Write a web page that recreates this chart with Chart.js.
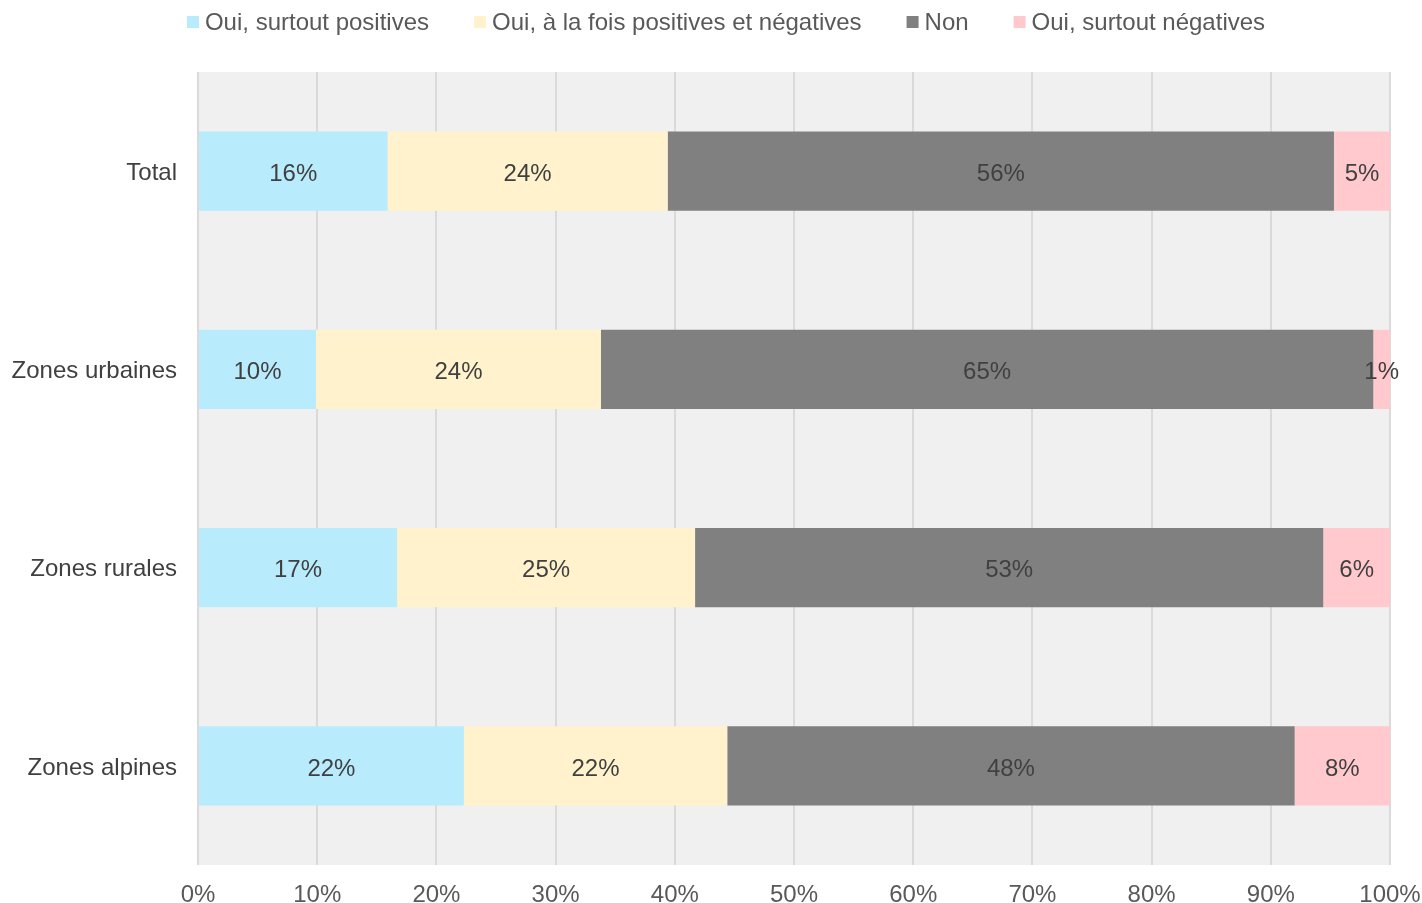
<!DOCTYPE html>
<html>
<head>
<meta charset="utf-8">
<script src="https://cdn.jsdelivr.net/npm/chart.js@4/dist/chart.umd.min.js"></script>
<style>
  html, body { margin: 0; padding: 0; background: #fff; }
  #wrap { width: 1422px; height: 903px; }
</style>
</head>
<body>
<div id="wrap"><canvas id="chart" width="1422" height="903"></canvas></div>
<script>
const categories = ["Total", "Zones urbaines", "Zones rurales", "Zones alpines"];
const seriesNames = [
  "Oui, surtout positives",
  "Oui, à la fois positives et négatives",
  "Non",
  "Oui, surtout négatives",
];
const surtoutPositives = [15.9, 9.9, 16.7, 22.3];
const positivesEtNegatives = [23.5, 23.9, 25.0, 22.1];
const non = [55.9, 64.8, 52.7, 47.6];
const surtoutNegatives = [4.7, 1.4, 5.6, 8.0];
const tickLabels = ["0%", "10%", "20%", "30%", "40%", "50%", "60%", "70%", "80%", "90%", "100%"];
const colors = ["#b8ebfc", "#fff2cc", "#808080", "#ffc9ce"];

const FONT = "'Liberation Sans', Arial, sans-serif";
const SIZE = 24;

// gray plot background
const plotBackground = {
  id: "plotBackground",
  beforeDraw(chart) {
    const { ctx, chartArea } = chart;
    ctx.save();
    ctx.fillStyle = "#f0f0f0";
    ctx.fillRect(chartArea.left, chartArea.top, chartArea.right - chartArea.left, chartArea.bottom - chartArea.top);
    ctx.restore();
  },
};

// percent labels centered in each segment
const segmentLabels = {
  id: "segmentLabels",
  afterDatasetsDraw(chart) {
    const { ctx } = chart;
    ctx.save();
    ctx.font = SIZE + "px " + FONT;
    ctx.fillStyle = "#404040";
    ctx.textAlign = "center";
    ctx.textBaseline = "middle";
    chart.data.datasets.forEach((ds, i) => {
      chart.getDatasetMeta(i).data.forEach((bar, j) => {
        const x = (bar.x + bar.base) / 2;
        ctx.fillText(Math.round(ds.data[j]) + "%", x, bar.y + 3);
      });
    });
    ctx.restore();
  },
};

// legend row at the top
const topLegend = {
  id: "topLegend",
  afterDraw(chart) {
    const { ctx } = chart;
    ctx.save();
    ctx.font = SIZE + "px " + FONT;
    ctx.textBaseline = "middle";
    const box = 12, gapText = 6, gapItem = 45, y = 22;
    const widths = chart.data.datasets.map((ds) => box + gapText + ctx.measureText(ds.label).width);
    const total = widths.reduce((a, b) => a + b, 0) + gapItem * (widths.length - 1);
    let x = (chart.width - total) / 2 + 15;
    chart.data.datasets.forEach((ds, i) => {
      ctx.fillStyle = ds.backgroundColor;
      ctx.fillRect(x, y - 6, box, box);
      ctx.fillStyle = "#595959";
      ctx.textAlign = "left";
      ctx.fillText(ds.label, x + box + gapText, y + 1);
      x += widths[i] + gapItem;
    });
    ctx.restore();
  },
};

const seriesValues = [surtoutPositives, positivesEtNegatives, non, surtoutNegatives];

new Chart(document.getElementById("chart"), {
  type: "bar",
  data: {
    labels: categories,
    datasets: seriesNames.map((name, i) => ({
      label: name,
      data: seriesValues[i],
      backgroundColor: colors[i],
      borderWidth: 0,
      categoryPercentage: 0.8,
      barPercentage: 0.5,
    })),
  },
  options: {
    indexAxis: "y",
    responsive: false,
    animation: false,
    layout: { padding: { top: 72, right: 32, left: 0, bottom: 0 } },
    scales: {
      x: {
        stacked: true,
        min: 0,
        max: 100,
        ticks: {
          stepSize: 10,
          padding: 16,
          color: "#595959",
          font: { family: FONT, size: SIZE },
          callback: (v, i) => tickLabels[i],
        },
        grid: { color: "#dadada", lineWidth: 2, drawTicks: false },
        border: { display: false },
        afterFit(scale) {
          scale.height = 38;
          scale.paddingRight = 0;
        },
      },
      y: {
        stacked: true,
        ticks: {
          padding: 21,
          labelOffset: 2,
          color: "#404040",
          font: { family: FONT, size: SIZE },
        },
        grid: { display: false, drawTicks: false },
        border: { display: false },
        afterFit(scale) { scale.width = 198; },
      },
    },
    plugins: {
      legend: { display: false },
      tooltip: { enabled: false },
    },
  },
  plugins: [plotBackground, segmentLabels, topLegend],
});
</script>
</body>
</html>
